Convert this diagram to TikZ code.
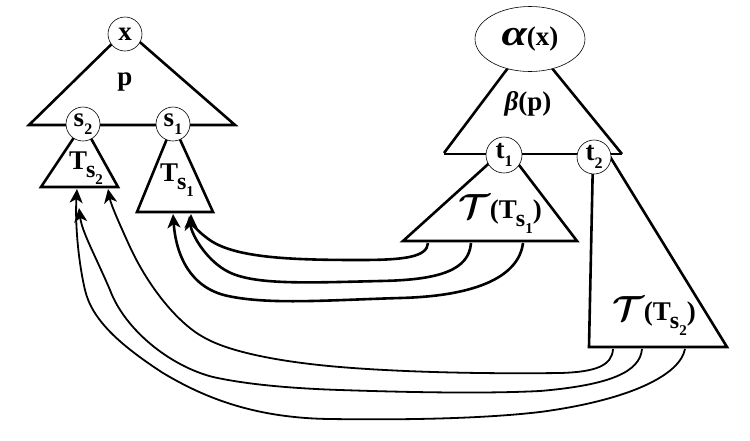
\documentclass[tikz,border=0pt]{standalone}
\usepackage{amsmath,bm}
\usepackage{fontspec}
\setmainfont{Liberation Serif}
\usetikzlibrary{arrows.meta,shapes.geometric}
\newcommand{\lowsub}[2]{#1\raisebox{-0.28em}{\fontsize{16}{16}\selectfont #2}}
\newcommand{\Tsx}[1]{T\kern-1pt\raisebox{-0.3em}{\fontsize{24}{24}\selectfont s\raisebox{-0.28em}{\fontsize{15}{15}\selectfont #1}}}
\newcommand{\calT}{\scalebox{1.4}{$\boldsymbol{\mathcal{T}}$}}
\tikzset{
  headtip/.tip={Stealth[length=14pt,width=13pt,inset=4pt]}
}
\begin{document}
\begin{tikzpicture}[x=1pt,y=-1pt,
  tri/.style={line width=2.6pt, line join=miter},
  circ/.style={draw, circle, fill=white, line width=0.6pt, minimum size=34pt, inner sep=0pt},
  lbl/.style={font=\fontsize{27}{30}\selectfont\bfseries, inner sep=0pt},
  thickarr/.style={line width=2.6pt, -headtip},
  thinarr/.style={line width=1.8pt, -headtip}]
\useasboundingbox (0,0) rectangle (750,440);
% left tree
\draw[tri] (29,125) -- (126,30) -- (235,125) -- cycle;
\draw[tri] (41,187) -- (83,124) -- (118,187) -- cycle;
\draw[tri] (137,212) -- (173,124) -- (213,212) -- cycle;
\node[circ,lbl] (X) at (125,34) {x};
\node[lbl] (P) at (125,82) {p};
\node[circ,lbl] (S2) at (83,124) {\lowsub{s}{2}};
\node[circ,lbl] (S1) at (173,124) {\lowsub{s}{1}};
\node[lbl] (TS2) at (86,168) {\Tsx{2}};
\node[lbl] (TS1) at (177,180) {\Tsx{1}};
% right tree
\draw[tri] (444,153) -- (529,40) -- (622,154);
\draw[tri] (444,154) -- (622,154);
\draw[tri] (403,241) -- (506,148) -- (577,241) -- cycle;
\draw[tri] (593,157) -- (589,347) -- (727,347) -- (609,155);
\node[draw, ellipse, fill=white, line width=0.6pt, minimum width=110pt, minimum height=65pt, lbl] (AX) at (530,39) {\scalebox{1.7}[1.35]{\itshape α}(x)};
\node[lbl] (BP) at (528,104) {{\itshape β}(p)};
\node[circ,lbl,minimum size=36pt] (T1) at (504,155) {\lowsub{t}{1}};
\node[circ,lbl] (T2) at (594,157) {\lowsub{t}{2}};
\node[lbl] (TT1) at (500,214) {\calT(\Tsx{1})};
\node[lbl] (TT2) at (654,316) {\calT(\Tsx{2})};
% connector end points
\coordinate (a1) at (428,243);
\coordinate (a2) at (471,243);
\coordinate (a3) at (523,243);
\coordinate (eA) at (191,214);
\coordinate (eB) at (189,216);
\coordinate (eC) at (173,214);
\coordinate (b1) at (613,349);
\coordinate (b2) at (642,349);
\coordinate (b3) at (685,349);
\coordinate (e1) at (108,189);
\coordinate (e2) at (79,208);
\coordinate (e3) at (77,189);
% arrows from T(Ts1) to Ts1
\draw[thickarr] (a1) .. controls (427,257) and (405,260) .. (360,260)
  .. controls (290,260) and (232,258) .. (207,238)
  .. controls (196,230) and (191,222) .. (eA);
\draw[thickarr] (a2) .. controls (469,270) and (440,280) .. (380,281)
  .. controls (300,283) and (250,285) .. (225,270)
  .. controls (205,258) and (192,235) .. (eB);
\draw[thickarr] (a3) .. controls (519,275) and (480,296) .. (400,298)
  .. controls (330,300) and (270,305) .. (228,296)
  .. controls (190,288) and (176,255) .. (eC);
% arrows from T(Ts2) to Ts2
\draw[thinarr] (b1) .. controls (612,366) and (595,372) .. (560,373)
  .. controls (480,374) and (400,372) .. (340,367)
  .. controls (280,362) and (230,352) .. (205,338)
  .. controls (180,325) and (150,290) .. (130,247)
  .. controls (120,225) and (111,205) .. (e1);
\draw[thinarr] (b2) .. controls (640,372) and (610,385) .. (540,391)
  .. controls (480,394) and (400,392) .. (340,390)
  .. controls (280,388) and (240,383) .. (213,377)
  .. controls (170,366) and (125,330) .. (110,290)
  .. controls (95,255) and (82,232) .. (e2);
\draw[thinarr] (b3) .. controls (680,375) and (630,400) .. (540,412)
  .. controls (480,419) and (400,420) .. (330,419)
  .. controls (250,418) and (200,395) .. (163,373)
  .. controls (120,345) and (92,320) .. (85,290)
  .. controls (78,260) and (75,222) .. (e3);
\end{tikzpicture}
\end{document}
